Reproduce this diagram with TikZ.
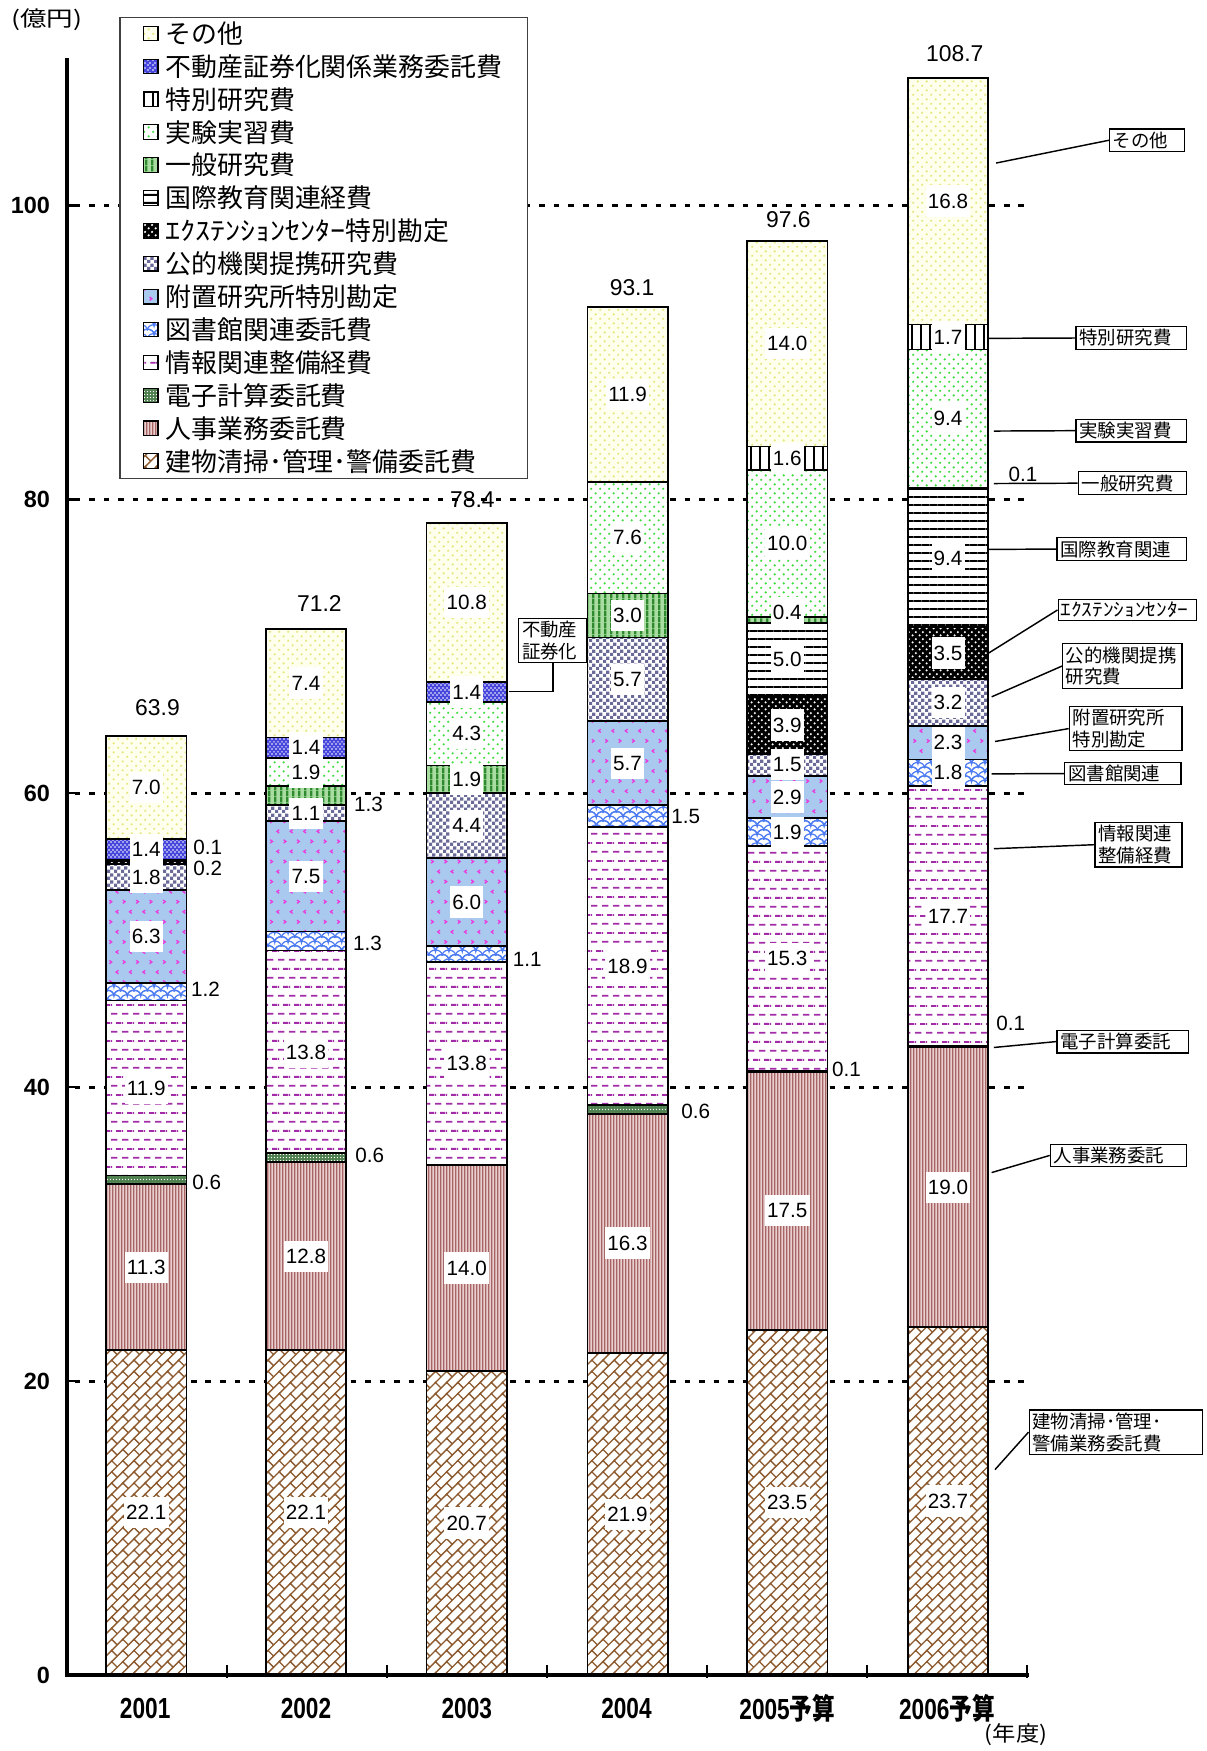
\documentclass[tikz,border=0pt]{standalone}
\usepackage{fontspec}
\setmainfont{Liberation Sans}
\newfontfamily\jp{Noto Sans CJK JP}
\usetikzlibrary{patterns}

\definecolor{brn}{HTML}{8C5A2E}
\definecolor{jinjiBg}{HTML}{E9CFCF}
\definecolor{jinjiLn}{HTML}{A66464}
\definecolor{denshiBg}{HTML}{4F804F}
\definecolor{johoLn}{HTML}{A22CA8}
\definecolor{toshoLn}{HTML}{4D7CF2}
\definecolor{fuchiBg}{HTML}{A9C9EE}
\definecolor{fuchiLn}{HTML}{E83CE0}
\definecolor{kotekiLn}{HTML}{6A6A98}
\definecolor{ippanBg}{HTML}{A8DCA0}
\definecolor{ippanLn}{HTML}{2F8A2F}
\definecolor{jikkenDot}{HTML}{3CDC3C}
\definecolor{fudoBg}{HTML}{4646DC}
\definecolor{otherBg}{HTML}{FFFFEE}
\definecolor{otherDot}{HTML}{E6E680}

\pgfdeclarepatternformonly{pBrick}{\pgfpoint{-1pt}{-1pt}}{\pgfpoint{11pt}{11pt}}{\pgfpoint{10pt}{10pt}}{%
 \pgfsetlinewidth{1.2pt}%
 \pgfpathmoveto{\pgfpoint{-1pt}{-1pt}}\pgfpathlineto{\pgfpoint{11pt}{11pt}}%
 \pgfpathmoveto{\pgfpoint{5pt}{5pt}}\pgfpathlineto{\pgfpoint{0pt}{10pt}}%
 \pgfusepath{stroke}}
\pgfdeclarepatternformonly{pJinji}{\pgfpointorigin}{\pgfpoint{3pt}{3pt}}{\pgfpoint{3pt}{3pt}}{%
 \pgfpathrectangle{\pgfpointorigin}{\pgfpoint{1.4pt}{3pt}}\pgfusepath{fill}}
\pgfdeclarepatternformonly{pDots3}{\pgfpointorigin}{\pgfpoint{3pt}{3pt}}{\pgfpoint{3pt}{3pt}}{%
 \pgfpathcircle{\pgfpoint{1.5pt}{1.5pt}}{0.7pt}\pgfusepath{fill}}
\pgfdeclarepatternformonly{pJoho}{\pgfpointorigin}{\pgfpoint{10pt}{16pt}}{\pgfpoint{10pt}{16pt}}{%
 \pgfpathrectangle{\pgfpoint{0pt}{3pt}}{\pgfpoint{6pt}{1.6pt}}%
 \pgfpathrectangle{\pgfpoint{5pt}{11pt}}{\pgfpoint{5pt}{1.6pt}}%
 \pgfpathrectangle{\pgfpoint{0pt}{11pt}}{\pgfpoint{1pt}{1.6pt}}%
 \pgfusepath{fill}}
\pgfdeclarepatternformonly{pTosho}{\pgfpoint{-7pt}{-1pt}}{\pgfpoint{19pt}{11pt}}{\pgfpoint{12pt}{8pt}}{%
 \pgfsetlinewidth{1.1pt}%
 \pgfpathmoveto{\pgfpoint{0pt}{0pt}}\pgfpathcurveto{\pgfpoint{0pt}{7pt}}{\pgfpoint{12pt}{7pt}}{\pgfpoint{12pt}{0pt}}%
 \pgfpathmoveto{\pgfpoint{-6pt}{4pt}}\pgfpathcurveto{\pgfpoint{-6pt}{11pt}}{\pgfpoint{6pt}{11pt}}{\pgfpoint{6pt}{4pt}}%
 \pgfpathcurveto{\pgfpoint{6pt}{11pt}}{\pgfpoint{18pt}{11pt}}{\pgfpoint{18pt}{4pt}}%
 \pgfusepath{stroke}}
\pgfdeclarepatternformonly{pFuchi}{\pgfpoint{-1pt}{-1pt}}{\pgfpoint{13pt}{19pt}}{\pgfpoint{12pt}{18pt}}{%
 \pgfsetlinewidth{1.2pt}%
 \pgfpathmoveto{\pgfpoint{2pt}{3pt}}\pgfpathlineto{\pgfpoint{4pt}{4.5pt}}\pgfpathlineto{\pgfpoint{2pt}{6pt}}%
 \pgfpathmoveto{\pgfpoint{10pt}{12pt}}\pgfpathlineto{\pgfpoint{8pt}{13.5pt}}\pgfpathlineto{\pgfpoint{10pt}{15pt}}%
 \pgfusepath{stroke}}
\pgfdeclarepatternformonly{pCheck}{\pgfpointorigin}{\pgfpoint{6pt}{6pt}}{\pgfpoint{6pt}{6pt}}{%
 \pgfpathrectangle{\pgfpointorigin}{\pgfpoint{3pt}{3pt}}\pgfpathrectangle{\pgfpoint{3pt}{3pt}}{\pgfpoint{3pt}{3pt}}\pgfusepath{fill}}
\pgfdeclarepatternformonly{pDots6}{\pgfpointorigin}{\pgfpoint{6pt}{6pt}}{\pgfpoint{6pt}{6pt}}{%
 \pgfpathcircle{\pgfpoint{1.5pt}{1.5pt}}{1.1pt}\pgfpathcircle{\pgfpoint{4.5pt}{4.5pt}}{1.1pt}\pgfusepath{fill}}
\pgfdeclarepatternformonly{pHL}{\pgfpointorigin}{\pgfpoint{7pt}{7pt}}{\pgfpoint{7pt}{7pt}}{%
 \pgfpathrectangle{\pgfpointorigin}{\pgfpoint{7pt}{1.8pt}}\pgfusepath{fill}}
\pgfdeclarepatternformonly{pVL5}{\pgfpointorigin}{\pgfpoint{5pt}{5pt}}{\pgfpoint{5pt}{5pt}}{%
 \pgfpathrectangle{\pgfpointorigin}{\pgfpoint{2.2pt}{5pt}}\pgfusepath{fill}}
\pgfdeclarepatternformonly{pDots8}{\pgfpointorigin}{\pgfpoint{8pt}{8pt}}{\pgfpoint{8pt}{8pt}}{%
 \pgfpathcircle{\pgfpoint{2pt}{2pt}}{1.1pt}\pgfpathcircle{\pgfpoint{6pt}{6pt}}{1.1pt}\pgfusepath{fill}}
\pgfdeclarepatternformonly{pVL8}{\pgfpointorigin}{\pgfpoint{8pt}{8pt}}{\pgfpoint{8pt}{8pt}}{%
 \pgfpathrectangle{\pgfpointorigin}{\pgfpoint{1.6pt}{8pt}}\pgfusepath{fill}}
\pgfdeclarepatternformonly{pDots4}{\pgfpointorigin}{\pgfpoint{4pt}{4pt}}{\pgfpoint{4pt}{4pt}}{%
 \pgfpathcircle{\pgfpoint{1pt}{1pt}}{0.8pt}\pgfpathcircle{\pgfpoint{3pt}{3pt}}{0.8pt}\pgfusepath{fill}}

\tikzset{
 segline/.style={draw=black, line width=1.6pt},
 sBldg/.style={fill=white, postaction={pattern=pBrick, pattern color=brn}},
 sJinji/.style={fill=jinjiBg, postaction={pattern=pJinji, pattern color=jinjiLn}},
 sDenshi/.style={fill=denshiBg, postaction={pattern=pDots3, pattern color=white}},
 sJoho/.style={fill=white, postaction={pattern=pJoho, pattern color=johoLn}},
 sTosho/.style={fill=white, postaction={pattern=pTosho, pattern color=toshoLn}},
 sFuchi/.style={fill=fuchiBg, postaction={pattern=pFuchi, pattern color=fuchiLn}},
 sKoteki/.style={fill=white, postaction={pattern=pCheck, pattern color=kotekiLn}},
 sExt/.style={fill=black, postaction={pattern=pDots6, pattern color=white}},
 sKokusai/.style={fill=white, postaction={pattern=pHL, pattern color=black}},
 sIppan/.style={fill=ippanBg, postaction={pattern=pVL5, pattern color=ippanLn}},
 sJikken/.style={fill=white, postaction={pattern=pDots8, pattern color=jikkenDot}},
 sToku/.style={fill=white, postaction={pattern=pVL8, pattern color=black}},
 sFudo/.style={fill=fudoBg, postaction={pattern=pDots4, pattern color=white}},
 sOther/.style={fill=otherBg, postaction={pattern=pDots8, pattern color=otherDot}},
 inlab/.style={fill=white, inner xsep=2pt, inner ysep=0pt, minimum height=28pt, font=\fontsize{18.5}{20}\selectfont},
 outlab/.style={anchor=west, inner sep=0pt, font=\fontsize{18.5}{20}\selectfont},
 totlab/.style={inner sep=0pt, font=\fontsize{20.5}{22}\selectfont},
 ylab/.style={anchor=east, inner sep=0pt, font=\bfseries\fontsize{21}{23}\selectfont},
 xlab/.style={inner sep=0pt, font=\bfseries\fontsize{26}{28}\selectfont},
 gridl/.style={line width=2.5pt, dash pattern=on 5pt off 8pt},
 callout/.style={draw=black, line width=1.1pt, fill=white, font=\jp\fontsize{16.5}{19.5}\selectfont, inner xsep=3pt, inner ysep=2.5pt, align=left, anchor=north west},
 leader/.style={line width=1.3pt},
 legtext/.style={anchor=west, inner sep=1pt, font=\jp\fontsize{23.2}{25}\selectfont},
}

\newcommand\vy[1]{1500-13.16*(#1)}
\newcommand\barseg[4]{%
 \path[#4] ({#1-36},{\vy{#2}}) rectangle ({#1+36},{\vy{#3}});%
 \draw[segline] ({#1-36},{\vy{#2}}) rectangle ({#1+36},{\vy{#3}});}
\newcommand\drawbar[2]{\foreach \a/\b/\s in {#2}{\edef\tmp{\noexpand\barseg{#1}{\a}{\b}{\s}}\tmp}}
\newcommand\inl[4]{\node[inlab] (#1) at (#2,{\vy{#3}}) {#4};}
\newcommand\legrow[4]{%
 \path[#3] (128.5,{30+29.46*#2-6.5}) rectangle (141.5,{30+29.46*#2+6.5});%
 \draw[line width=1pt] (128.5,{30+29.46*#2-6.5}) rectangle (141.5,{30+29.46*#2+6.5});%
 \node[legtext] (#1) at (147,{30+29.46*#2}) {#4};}
\newcommand\hwk[1]{\scalebox{1.16}[1]{#1}}

\begin{document}
\begin{tikzpicture}[x=1pt,y=-1pt]
\useasboundingbox (0,0) rectangle (1080,1568);

% grid
\foreach \v in {20,40,60,80,100}{\draw[gridl] (67,{\vy{\v}}) -- (920,{\vy{\v}});}

% bars
\drawbar{131}{0/22.1/sBldg,22.1/33.4/sJinji,33.4/34.0/sDenshi,34.0/45.9/sJoho,45.9/47.1/sTosho,47.1/53.4/sFuchi,53.4/55.2/sKoteki,55.2/55.4/sExt,55.4/55.5/sKokusai,55.5/56.9/sFudo,56.9/63.9/sOther}
\drawbar{274}{0/22.1/sBldg,22.1/34.9/sJinji,34.9/35.5/sDenshi,35.5/49.3/sJoho,49.3/50.6/sTosho,50.6/58.1/sFuchi,58.1/59.2/sKoteki,59.2/60.5/sIppan,60.5/62.4/sJikken,62.4/63.8/sFudo,63.8/71.2/sOther}
\drawbar{418}{0/20.7/sBldg,20.7/34.7/sJinji,34.7/48.5/sJoho,48.5/49.6/sTosho,49.6/55.6/sFuchi,55.6/60.0/sKoteki,60.0/61.9/sIppan,61.9/66.2/sJikken,66.2/67.6/sFudo,67.6/78.4/sOther}
\drawbar{562}{0/21.9/sBldg,21.9/38.2/sJinji,38.2/38.8/sDenshi,38.8/57.7/sJoho,57.7/59.2/sTosho,59.2/64.9/sFuchi,64.9/70.6/sKoteki,70.6/73.6/sIppan,73.6/81.2/sJikken,81.2/93.1/sOther}
\drawbar{705}{0/23.5/sBldg,23.5/41.0/sJinji,41.0/41.1/sDenshi,41.1/56.4/sJoho,56.4/58.3/sTosho,58.3/61.2/sFuchi,61.2/62.7/sKoteki,62.7/66.6/sExt,66.6/71.6/sKokusai,71.6/72.0/sIppan,72.0/82.0/sJikken,82.0/83.6/sToku,83.6/97.6/sOther}
\drawbar{849}{0/23.7/sBldg,23.7/42.7/sJinji,42.7/42.8/sDenshi,42.8/60.5/sJoho,60.5/62.3/sTosho,62.3/64.6/sFuchi,64.6/67.8/sKoteki,67.8/71.3/sExt,71.3/80.7/sKokusai,80.7/80.8/sIppan,80.8/90.2/sJikken,90.2/91.9/sToku,91.9/108.7/sOther}

% inside labels
\inl{a1}{131}{60.4}{7.0}\inl{a2}{131}{56.2}{1.4}\inl{a3}{131}{54.3}{1.8}\inl{a4}{131}{50.25}{6.3}
\inl{a5}{131}{39.95}{11.9}\inl{a6}{131}{27.75}{11.3}\inl{a7}{131}{11.05}{22.1}
\inl{b1}{274}{67.5}{7.4}\inl{b2}{274}{63.1}{1.4}\inl{b3}{274}{61.45}{1.9}\inl{b4}{274}{58.65}{1.1}
\inl{b5}{274}{54.35}{7.5}\inl{b6}{274}{42.4}{13.8}\inl{b7}{274}{28.5}{12.8}\inl{b8}{274}{11.05}{22.1}
\inl{c1}{418}{73.0}{10.8}\inl{c2}{418}{66.9}{1.4}\inl{c3}{418}{64.05}{4.3}\inl{c4}{418}{60.95}{1.9}
\inl{c5}{418}{57.8}{4.4}\inl{c6}{418}{52.6}{6.0}\inl{c7}{418}{41.6}{13.8}\inl{c8}{418}{27.7}{14.0}\inl{c9}{418}{10.35}{20.7}
\inl{d1}{562}{87.15}{11.9}\inl{d2}{562}{77.4}{7.6}\inl{d3}{562}{72.1}{3.0}\inl{d4}{562}{67.75}{5.7}
\inl{d5}{562}{62.05}{5.7}\inl{d6}{562}{48.25}{18.9}\inl{d7}{562}{29.4}{16.3}\inl{d8}{562}{10.95}{21.9}
\inl{e1}{705}{90.6}{14.0}\inl{e2}{705}{82.8}{1.6}\inl{e3}{705}{77.0}{10.0}\inl{e4}{705}{72.3}{0.4}
\inl{e5}{705}{69.1}{5.0}\inl{e6}{705}{64.65}{3.9}\inl{e7}{705}{61.95}{1.5}\inl{e8}{705}{59.75}{2.9}
\inl{e9}{705}{57.35}{1.9}\inl{e10}{705}{48.75}{15.3}\inl{e11}{705}{31.6}{17.5}\inl{e12}{705}{11.75}{23.5}
\inl{f1}{849}{100.3}{16.8}\inl{f2}{849}{91.05}{1.7}\inl{f3}{849}{85.5}{9.4}\inl{f4}{849}{76.0}{9.4}
\inl{f5}{849}{69.55}{3.5}\inl{f6}{849}{66.2}{3.2}\inl{f7}{849}{63.45}{2.3}\inl{f8}{849}{61.4}{1.8}
\inl{f9}{849}{51.65}{17.7}\inl{f10}{849}{33.2}{19.0}\inl{f11}{849}{11.85}{23.7}

% outside labels
\node[outlab] (o1) at (173,759) {0.1};
\node[outlab] (o2) at (173,778) {0.2};
\node[outlab] (o3) at (171,886) {1.2};
\node[outlab] (o4) at (172,1059) {0.6};
\node[outlab] (o5) at (317,720) {1.3};
\node[outlab] (o6) at (316,845) {1.3};
\node[outlab] (o7) at (318,1035) {0.6};
\node[outlab] (o8) at (459,859) {1.1};
\node[outlab] (o9) at (601,731) {1.5};
\node[outlab] (o10) at (610,995) {0.6};
\node[outlab] (o11) at (745,958) {0.1};
\node[outlab] (o12) at (903,425) {0.1};
\node[outlab] (o13) at (892,916) {0.1};

% totals
\node[totlab] (t1) at (141,634) {63.9};
\node[totlab] (t2) at (286,540) {71.2};
\node[totlab] (t3) at (423,447) {78.4};
\node[totlab] (t4) at (566,258) {93.1};
\node[totlab] (t5) at (706,197) {97.6};
\node[totlab] (t6) at (855,48) {108.7};

% callouts
\node[callout, text width=61pt] (cSonota) at (993,115) {その他};
\node[callout, text width=93pt] (cToku) at (963,292) {特別研究費};
\node[callout, text width=93pt] (cJikken) at (963,375) {実験実習費};
\node[callout, text width=91pt] (cIppan) at (965,422) {一般研究費};
\node[callout, text width=110pt] (cKokusai) at (946,481) {国際教育関連};
\node[callout, text width=120pt, inner xsep=2pt] (cExt) at (947,536) {\hwk{ｴｸｽﾃﾝｼｮﾝｾﾝﾀｰ}};
\node[callout, text width=101pt] (cKoteki) at (951,576) {公的機関提携\\研究費};
\node[callout, text width=95pt] (cFuchi) at (957,632) {附置研究所\\特別勘定};
\node[callout, text width=98pt] (cTosho) at (953,682) {図書館関連};
\node[callout, text width=72pt] (cJoho) at (980,736) {情報関連\\整備経費};
\node[callout, text width=112pt] (cDenshi) at (946,922) {電子計算委託};
\node[callout, text width=116pt] (cJinji) at (940,1024) {人事業務委託};
\node[callout, text width=149pt] (cBldg) at (921,1262) {建物清掃･管理･\\警備業務委託費};
\node[callout, text width=55pt] (cFudo) at (464,553) {不動産\\証券化};

\coordinate (pSonota) at (892,146);
\coordinate (pToku) at (885,303);
\coordinate (pJikken) at (890,386);
\coordinate (pIppan) at (890,433);
\coordinate (pKokusai) at (885,492);
\coordinate (pExt) at (885,585);
\coordinate (pKoteki) at (888,624);
\coordinate (pFuchi) at (891,664);
\coordinate (pTosho) at (888,693);
\coordinate (pJoho) at (890,760);
\coordinate (pDenshi) at (890,938);
\coordinate (pJinji) at (888,1050);
\coordinate (pBldg) at (891,1316);
\coordinate (pFudo) at (456,619);
\foreach \n in {Sonota,Toku,Jikken,Ippan,Kokusai,Ext,Koteki,Fuchi,Tosho,Joho,Denshi,Jinji,Bldg}{\draw[leader] (p\n) -- (c\n.west);}
\draw[leader] (pFudo) -| (cFudo.south);

% axes
\draw[line width=3pt] (60,52) -- (60,1500);
\draw[line width=3.5pt] (58.5,1500) -- (921,1500);
\foreach \v in {20,40,60,80,100}{\draw[line width=2pt] (60,{\vy{\v}}) -- (67,{\vy{\v}});}
\foreach \i in {1,...,6}{\draw[line width=2pt] ({60+143.33*\i},1491) -- ({60+143.33*\i},1503);}
\node[ylab] (y0) at (45,1500) {0};
\node[ylab] (y20) at (45,{\vy{20}}) {20};
\node[ylab] (y40) at (45,{\vy{40}}) {40};
\node[ylab] (y60) at (45,{\vy{60}}) {60};
\node[ylab] (y80) at (45,{\vy{80}}) {80};
\node[ylab] (y100) at (45,{\vy{100}}) {100};
\node[xlab] (x1) at (130,1530) {\scalebox{0.78}[1]{2001}};
\node[xlab] (x2) at (274,1530) {\scalebox{0.78}[1]{2002}};
\node[xlab] (x3) at (418,1530) {\scalebox{0.78}[1]{2003}};
\node[xlab] (x4) at (561,1530) {\scalebox{0.78}[1]{2004}};
\node[xlab] (x5) at (705,1530) {\scalebox{0.78}[1]{2005{\jp\bfseries 予算}}};
\node[xlab] (x6) at (848,1530) {\scalebox{0.78}[1]{2006{\jp\bfseries 予算}}};
\node[inner sep=0pt, font=\jp\fontsize{19}{21}\selectfont] (unitY) at (42,18) {\scalebox{1.25}[1]{(億円)}};
\node[inner sep=0pt, font=\jp\fontsize{19}{21}\selectfont] (unitX) at (910,1553) {\scalebox{1.1}[1]{(年度)}};

% legend
\node[draw=black!75, line width=1.2pt, fill=white, minimum width=365pt, minimum height=413pt, anchor=north west, inner sep=0pt] (legend) at (107,15) {};
\legrow{g0}{0}{sOther}{その他}
\legrow{g1}{1}{sFudo}{不動産証券化関係業務委託費}
\legrow{g2}{2}{sToku}{特別研究費}
\legrow{g3}{3}{sJikken}{実験実習費}
\legrow{g4}{4}{sIppan}{一般研究費}
\legrow{g5}{5}{sKokusai}{国際教育関連経費}
\legrow{g6}{6}{sExt}{\hwk{ｴｸｽﾃﾝｼｮﾝｾﾝﾀｰ}特別勘定}
\legrow{g7}{7}{sKoteki}{公的機関提携研究費}
\legrow{g8}{8}{sFuchi}{附置研究所特別勘定}
\legrow{g9}{9}{sTosho}{図書館関連委託費}
\legrow{g10}{10}{sJoho}{情報関連整備経費}
\legrow{g11}{11}{sDenshi}{電子計算委託費}
\legrow{g12}{12}{sJinji}{人事業務委託費}
\legrow{g13}{13}{sBldg}{建物清掃･管理･警備委託費}
\end{tikzpicture}
\end{document}
